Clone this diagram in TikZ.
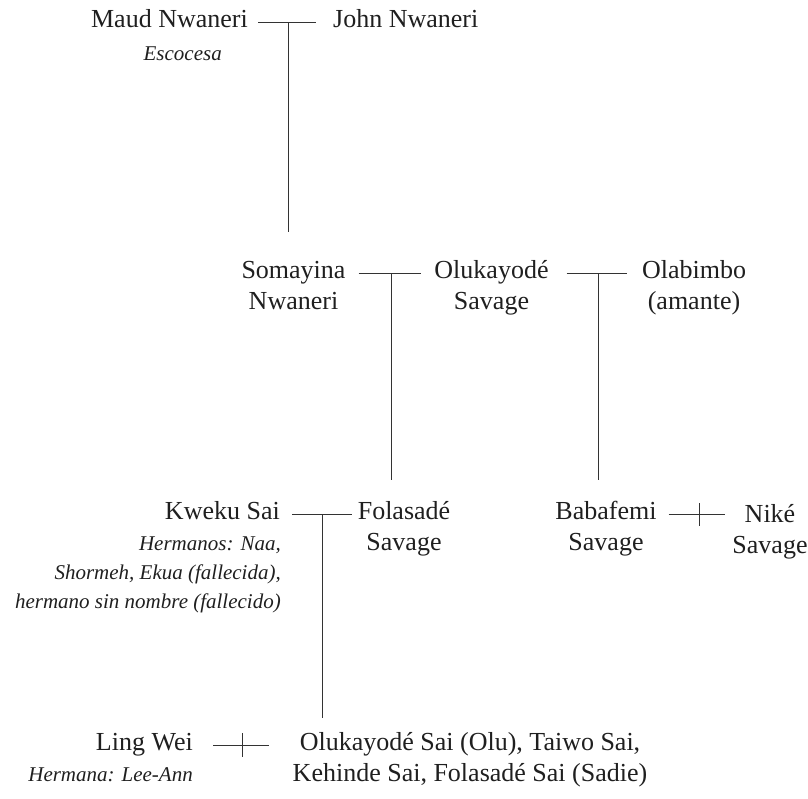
\documentclass[tikz,border=0pt]{standalone}
\usepackage{fontspec}
\setmainfont{Liberation Serif}
\usetikzlibrary{calc}
\tikzset{
  nm/.style={inner sep=0pt, font=\fontsize{26}{31}\selectfont, align=center, text=black!88},
  it/.style={inner sep=0pt, font=\fontsize{21}{29}\selectfont\itshape, align=right, text=black!88},
  ln/.style={line width=1pt, draw=black!80}
}
\begin{document}
\begin{tikzpicture}[x=1pt,y=-1pt]
\useasboundingbox (0,0) rectangle (808,798);
% generation 1
\node[nm,anchor=base east] (maud) at (248,27) {Maud Nwaneri};
\node[it,anchor=base east] (esc) at (222,60) {Escocesa};
\node[nm,anchor=base west] (john) at (333,27) {John Nwaneri};
% generation 2 (base anchor = last line)
\node[nm,anchor=base] (soma) at (293.5,309) {Somayina\\Nwaneri};
\node[nm,anchor=base] (oluk) at (491.5,309) {Olukayodé\\Savage};
\node[nm,anchor=base] (olab) at (694,309) {Olabimbo\\(amante)};
% generation 3
\node[nm,anchor=base east] (kweku) at (280,519) {Kweku Sai};
\node[it,anchor=base east] (herm) at (281,608) {Hermanos: Naa,\\Shormeh, Ekua (fallecida),\\hermano sin nombre (fallecido)};
\node[nm,anchor=base] (fola) at (404,550) {Folasadé\\Savage};
\node[nm,anchor=base] (baba) at (606,550) {Babafemi\\Savage};
\node[nm,anchor=base] (nike) at (770,553) {Niké\\Savage};
% generation 4
\node[nm,anchor=base east] (ling) at (193,750) {Ling Wei};
\node[it,anchor=base east] (hna) at (193,781) {Hermana: Lee-Ann};
\node[nm,anchor=base] (kids) at (470,781) {Olukayodé Sai (Olu), Taiwo Sai,\\Kehinde Sai, Folasadé Sai (Sadie)};
% connectors
\coordinate (m1) at (288,22);
\coordinate (d1) at (288,232);
\draw[ln] ([shift={(10pt,5pt)}]maud.base east) -- ([shift={(-17pt,5pt)}]john.base west);
\draw[ln] (m1) -- (d1);
\coordinate (m2) at (391,273);
\coordinate (d2) at (391,480);
\draw[ln] ([shift={(13pt,36pt)}]soma.base east) -- ([shift={(-13pt,36pt)}]oluk.base west);
\draw[ln] (m2) -- (d2);
\coordinate (m3) at (598,273);
\coordinate (d3) at (598,480);
\draw[ln] ([shift={(18pt,36pt)}]oluk.base east) -- ([shift={(-15pt,36pt)}]olab.base west);
\draw[ln] (m3) -- (d3);
\coordinate (m4) at (322,514);
\coordinate (d4) at (322,718);
\draw[ln] ([shift={(12pt,5pt)}]kweku.base east) -- ([shift={(-6pt,36pt)}]fola.base west);
\draw[ln] (m4) -- (d4);
\coordinate (x1a) at (699,503);
\coordinate (x1b) at (699,526);
\draw[ln] ([shift={(12pt,36pt)}]baba.base east) -- ([shift={(-7pt,39pt)}]nike.base west);
\draw[ln] (x1a) -- (x1b);
\coordinate (x2a) at (242,733);
\coordinate (x2b) at (242,757);
\draw[ln] ([shift={(20pt,5pt)}]ling.base east) -- ([shift={(-24pt,36pt)}]kids.base west);
\draw[ln] (x2a) -- (x2b);
\end{tikzpicture}
\end{document}
